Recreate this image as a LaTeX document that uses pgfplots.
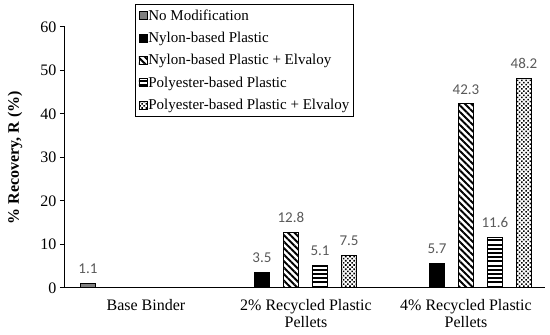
\documentclass[border=0pt]{standalone}
\usepackage{fontspec}
\setmainfont{Liberation Serif}
\newfontfamily\cali{Carlito}
\usepackage{pgfplots}
\pgfplotsset{compat=1.18}
\usetikzlibrary{patterns.meta}
\definecolor{valgray}{HTML}{595959}
\definecolor{barfill}{HTML}{808080}
\pgfdeclarepatternformonly{thickhlines}{\pgfpoint{-1pt}{0pt}}{\pgfpoint{41pt}{4.2pt}}{\pgfpoint{40pt}{4.2pt}}{%
  \pgfsetlinewidth{2pt}%
  \pgfpathmoveto{\pgfpoint{-1pt}{2.1pt}}\pgfpathlineto{\pgfpoint{41pt}{2.1pt}}\pgfusepath{stroke}}
\begin{document}
\begin{tikzpicture}
\useasboundingbox (-65pt,-47pt) rectangle (485pt,288pt);
\begin{axis}[
  at={(0,0)}, anchor=south west,
  scale only axis, width=480pt, height=261pt,
  xmin=-0.506, xmax=2.494, ymin=0, ymax=60,
  ytick={0,10,...,60},
  xtick={0,1,2},
  xticklabels={Base Binder,{2\% Recycled Plastic\\Pellets},{4\% Recycled Plastic\\Pellets}},
  xticklabel style={align=center, font=\fontsize{16}{17}\selectfont, yshift=-3pt},
  yticklabel style={font=\fontsize{16}{17}\selectfont},
  /pgf/number format/assume math mode=true,
  axis x line=bottom, axis y line=left,
  axis line style={-, line width=1pt, black},
  major x tick style={draw=none},
  major y tick style={line width=1pt, black},
  tick align=outside, major tick length=5pt,
  ylabel={\textbf{\% Recovery, R (\%)}},
  ylabel style={font=\fontsize{16}{18}\selectfont},
  every axis y label/.append style={at={(-50pt,130.5pt)}, anchor=center},
  ybar, bar width=0.094, bar shift=0pt,
  nodes near coords,
  every node near coord/.append style={font=\cali\fontsize{15}{17}\selectfont, text=valgray, yshift=6pt},
  legend style={at={(0.146,1.088)}, anchor=north west, draw=black, line width=1pt,
    font=\fontsize{15}{16}\selectfont, row sep=8.5pt, inner xsep=3pt, inner ysep=4pt,
    nodes={inner sep=1pt}},
  legend cell align=left,
  legend image code/.code={\draw[#1, line width=0.8pt] (0pt,-4pt) rectangle (8pt,4pt);},
]
\addplot[draw=black, line width=1pt, fill=barfill] coordinates {(-0.3625,1.1)};
\addlegendentry{No Modification}
\addplot[draw=black, line width=1pt, fill=black] coordinates {(0.725,3.5) (1.819,5.7)};
\addlegendentry{Nylon-based Plastic}
\addplot[draw=black, line width=1pt, pattern={Lines[angle=-45,distance=4.6pt,line width=1.9pt]}, pattern color=black] coordinates {(0.906,12.8) (2.0,42.3)};
\addlegendentry{Nylon-based Plastic + Elvaloy}
\addplot[draw=black, line width=1pt, pattern=thickhlines, pattern color=black] coordinates {(1.088,5.1) (2.181,11.6)};
\addlegendentry{Polyester-based Plastic}
\addplot[draw=black, line width=1pt, pattern={Dots[distance=3pt,radius=1.1pt,angle=45]}, pattern color=black] coordinates {(1.269,7.5) (2.3625,48.2)};
\addlegendentry{Polyester-based Plastic + Elvaloy}
\end{axis}
\end{tikzpicture}
\end{document}
